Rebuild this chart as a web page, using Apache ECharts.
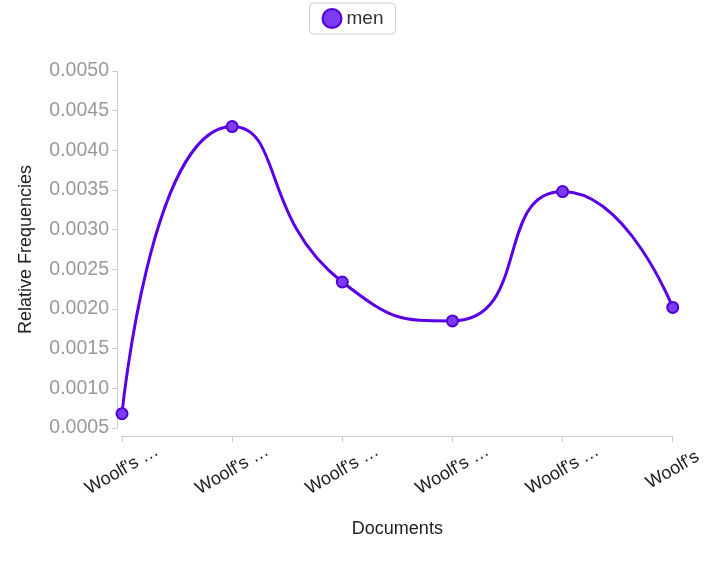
<!DOCTYPE html>
<html><head><meta charset="utf-8">
<script src="https://cdn.jsdelivr.net/npm/echarts@6/dist/echarts.min.js"></script>
<style>html,body{margin:0;padding:0;background:#fff}#c{width:705px;height:561px}</style>
</head><body><div id="c"></div>
<script>
var categories = ["Woolf's Mrs Dalloway", "Woolf's Orlando", "Woolf's The Waves", "Woolf's Jacob's Room", "Woolf's To the Lighthouse", "Woolf's"];
var menValues = [0.00068, 0.0043, 0.00234, 0.00185, 0.00348, 0.00202];

var chart = echarts.init(document.getElementById('c'));
chart.setOption({
    animation: false,
    legend: {
        top: 3, left: 'center',
        data: ['men'],
        icon: 'circle', itemWidth: 19, itemHeight: 19, itemGap: 6,
        borderColor: '#ccc', borderWidth: 1, borderRadius: 4,
        padding: [5, 12],
        textStyle: { fontSize: 19, color: '#333', fontFamily: 'Arial, Liberation Sans' }
    },
    grid: { left: 122, right: 20, top: 71, bottom: 133 },
    xAxis: {
        type: 'category',
        data: categories,
        boundaryGap: false,
        offset: 8,
        name: 'Documents',
        nameLocation: 'middle',
        nameGap: 84,
        nameTextStyle: { fontSize: 18, color: '#222', fontFamily: 'Arial, Liberation Sans' },
        axisLine: { lineStyle: { color: '#ccc' } },
        axisTick: { show: true, length: 6, lineStyle: { color: '#ccc' }, alignWithLabel: true },
        axisLabel: {
            rotate: 30, fontSize: 18, color: '#222', margin: 34,
            align: 'center', verticalAlign: 'middle',
            fontFamily: 'Arial, Liberation Sans',
            width: 92, overflow: 'truncate', ellipsis: '…', interval: 0
        }
    },
    yAxis: {
        type: 'value',
        min: 0.0005, max: 0.005, interval: 0.0005,
        offset: 5,
        name: 'Relative Frequencies',
        nameLocation: 'middle',
        nameGap: 82,
        nameTextStyle: { fontSize: 18, color: '#222', fontFamily: 'Arial, Liberation Sans' },
        splitLine: { show: false },
        axisLine: { show: true, lineStyle: { color: '#ccc' } },
        axisTick: { show: true, length: 5, lineStyle: { color: '#ccc' } },
        axisLabel: {
            fontSize: 19.5, color: '#999', fontFamily: 'Arial, Liberation Sans',
            formatter: function (v) { return v.toFixed(4); }
        }
    },
    series: [{
        name: 'men',
        type: 'line',
        data: menValues,
        smooth: 0.6,
        symbol: 'circle',
        symbolSize: 11,
        lineStyle: { color: '#5b00e6', width: 3 },
        itemStyle: { color: '#7a3cf5', borderColor: '#5200d6', borderWidth: 2 }
    }],
    color: ['#7a3cf5']
});
</script></body></html>
